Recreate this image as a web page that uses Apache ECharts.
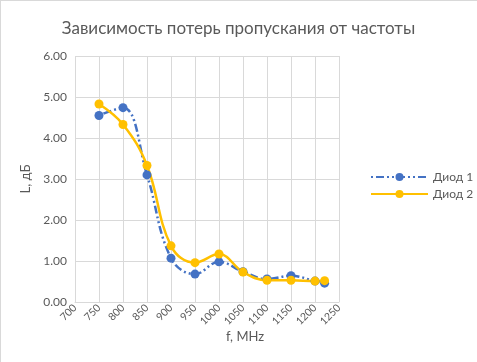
<!DOCTYPE html>
<html><head><meta charset="utf-8">
<script src="https://cdn.jsdelivr.net/npm/echarts@6/dist/echarts.min.js"></script>
<style>html,body{margin:0;padding:0;background:#fff}#c{width:477px;height:362px}</style>
</head><body><div id="c"></div>
<script>
const freqs = [750, 800, 850, 900, 950, 1000, 1050, 1100, 1150, 1200, 1220];
const diode1 = [4.55, 4.74, 3.10, 1.07, 0.68, 0.98, 0.74, 0.56, 0.64, 0.51, 0.46];
const diode2 = [4.83, 4.33, 3.33, 1.37, 0.96, 1.17, 0.73, 0.53, 0.53, 0.51, 0.52];
const seriesNames = ['Диод 1', 'Диод 2'];
const titleText = 'Зависимость потерь пропускания от частоты';
const xName = 'f, MHz';
const yName = 'L, дБ';
const font = 'Lato, "Open Sans", sans-serif';
const chart = echarts.init(document.getElementById('c'));
const pair = (ys) => freqs.map((x, i) => [x, ys[i]]);
chart.setOption({
  animation: false,
  graphic: [
    { type: 'rect', left: 0, top: 0, shape: { width: 477, height: 1 }, style: { fill: '#d9d9d9' }, silent: true },
    { type: 'rect', left: 0, top: 0, shape: { width: 1, height: 362 }, style: { fill: '#d9d9d9' }, silent: true },
    { type: 'text', x: 245, y: 337, silent: true,
      style: { text: xName, fontFamily: font, fontSize: 13, fill: '#595959', align: 'center', verticalAlign: 'middle' } }
  ],
  title: { text: titleText, left: 'center', top: 15,
    textStyle: { fontFamily: font, fontSize: 17, fontWeight: 'normal', color: '#595959' } },
  legend: { orient: 'vertical', left: 365, top: 166, itemWidth: 57, itemHeight: 10, itemGap: 5,
    textStyle: { fontFamily: font, fontSize: 12, color: '#595959' } },
  grid: { left: 75, right: 138, top: 56, bottom: 60, containLabel: false },
  xAxis: { type: 'value', min: 700, max: 1250, interval: 50,
    axisLine: { show: true, lineStyle: { color: '#d9d9d9' } }, axisTick: { show: false },
    axisLabel: { rotate: 45, formatter: v => String(v), fontFamily: font, fontSize: 10.5, color: '#595959', margin: 4 },
    splitLine: { show: true, lineStyle: { color: '#d9d9d9' } } },
  yAxis: { type: 'value', min: 0, max: 6, interval: 1,
    name: yName, nameLocation: 'middle', nameGap: 42, nameRotate: 90,
    nameTextStyle: { fontFamily: font, fontSize: 13, color: '#595959' },
    axisLine: { show: false }, axisTick: { show: false },
    axisLabel: { formatter: v => v.toFixed(2), fontFamily: font, fontSize: 12, color: '#595959', margin: 8 },
    splitLine: { show: true, lineStyle: { color: '#d9d9d9' } } },
  series: [
    { name: seriesNames[0], type: 'line', data: pair(diode1), smooth: 0.4,
      symbol: 'circle', symbolSize: 9, color: '#4472C4',
      lineStyle: { width: 2.5, type: [2, 3, 8, 3, 2, 3], color: '#4472C4' },
      itemStyle: { color: '#4472C4' } },
    { name: seriesNames[1], type: 'line', data: pair(diode2), smooth: 0.4,
      symbol: 'circle', symbolSize: 9, color: '#FFC000',
      lineStyle: { width: 2.5, color: '#FFC000' },
      itemStyle: { color: '#FFC000' } }
  ]
});
</script></body></html>
